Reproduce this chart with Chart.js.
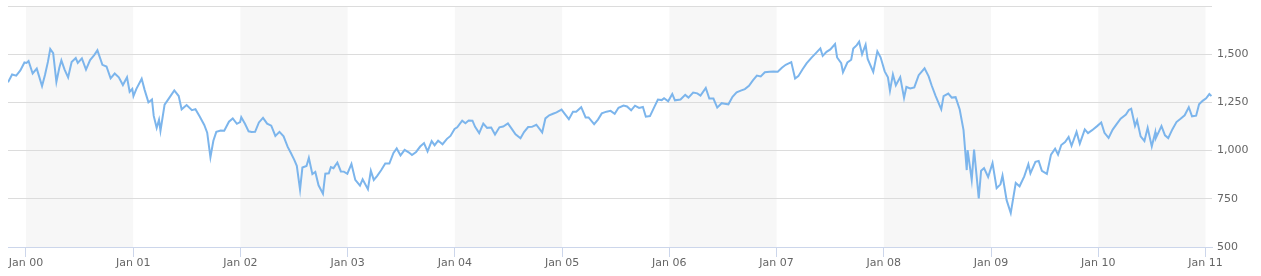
<!DOCTYPE html>
<html>
<head>
<meta charset="utf-8">
<script src="https://cdn.jsdelivr.net/npm/chart.js@4/dist/chart.umd.min.js"></script>
<style>
  html, body { margin: 0; padding: 0; background: #fff; }
  #wrap { width: 1261px; height: 276px; }
</style>
</head>
<body>
<div id="wrap"><canvas id="myChart"></canvas></div>
<script>
// S&P 500 closes (approx, roughly every 2 weeks)
var dates = [
  '1999-11-01','1999-11-15','1999-11-29','1999-12-13','1999-12-27',
  '2000-01-03','2000-01-10','2000-01-24','2000-02-07','2000-02-14','2000-02-25','2000-03-06','2000-03-16','2000-03-24','2000-04-03','2000-04-14','2000-04-24','2000-05-01','2000-05-12','2000-05-24','2000-06-05','2000-06-19','2000-06-26','2000-07-10','2000-07-24','2000-08-07','2000-08-21','2000-09-01','2000-09-18','2000-10-02','2000-10-16','2000-10-30','2000-11-13','2000-11-27','2000-12-11','2000-12-20','2000-12-29',
  '2001-01-02','2001-01-12','2001-01-30','2001-02-09','2001-02-22','2001-03-06','2001-03-12','2001-03-22','2001-03-30','2001-04-04','2001-04-18','2001-05-01','2001-05-21','2001-06-05','2001-06-15','2001-07-02','2001-07-20','2001-08-01','2001-08-15','2001-08-31','2001-09-10','2001-09-21','2001-10-01','2001-10-11','2001-10-26','2001-11-07','2001-11-23','2001-12-06','2001-12-20','2001-12-31',
  '2002-01-04','2002-01-17','2002-01-29','2002-02-08','2002-02-20','2002-03-05','2002-03-19','2002-04-02','2002-04-16','2002-04-30','2002-05-14','2002-05-28','2002-06-11','2002-06-21','2002-07-03','2002-07-12','2002-07-23','2002-07-31','2002-08-14','2002-08-22','2002-09-03','2002-09-13','2002-09-24','2002-10-09','2002-10-17','2002-10-29','2002-11-05','2002-11-14','2002-11-27','2002-12-09','2002-12-19','2002-12-31',
  '2003-01-14','2003-01-27','2003-02-12','2003-02-21','2003-03-11','2003-03-21','2003-03-31','2003-04-11','2003-04-25','2003-05-09','2003-05-23','2003-06-06','2003-06-17','2003-06-30','2003-07-14','2003-07-29','2003-08-08','2003-08-22','2003-09-05','2003-09-18','2003-09-30','2003-10-14','2003-10-24','2003-11-05','2003-11-20','2003-12-05','2003-12-17','2003-12-31',
  '2004-01-09','2004-01-26','2004-02-06','2004-02-17','2004-03-01','2004-03-10','2004-03-24','2004-04-07','2004-04-20','2004-05-04','2004-05-17','2004-06-01','2004-06-14','2004-06-30','2004-07-12','2004-07-26','2004-08-12','2004-08-24','2004-09-07','2004-09-20','2004-10-05','2004-10-25','2004-11-05','2004-11-18','2004-12-01','2004-12-13','2004-12-30',
  '2005-01-10','2005-01-24','2005-02-07','2005-02-18','2005-03-07','2005-03-22','2005-04-01','2005-04-20','2005-05-03','2005-05-16','2005-06-01','2005-06-15','2005-06-29','2005-07-12','2005-07-29','2005-08-10','2005-08-24','2005-09-06','2005-09-20','2005-10-03','2005-10-13','2005-10-27','2005-11-09','2005-11-23','2005-12-06','2005-12-14','2005-12-28',
  '2006-01-11','2006-01-20','2006-02-08','2006-02-24','2006-03-07','2006-03-23','2006-04-06','2006-04-17','2006-05-05','2006-05-17','2006-05-31','2006-06-13','2006-06-28','2006-07-13','2006-07-21','2006-08-04','2006-08-18','2006-09-01','2006-09-15','2006-09-29','2006-10-13','2006-10-26','2006-11-08','2006-11-22','2006-12-08','2006-12-22',
  '2007-01-05','2007-01-19','2007-02-01','2007-02-20','2007-03-05','2007-03-16','2007-03-30','2007-04-13','2007-04-30','2007-05-14','2007-05-30','2007-06-07','2007-06-20','2007-07-03','2007-07-19','2007-07-26','2007-08-09','2007-08-15','2007-08-30','2007-09-12','2007-09-19','2007-10-01','2007-10-09','2007-10-19','2007-10-31','2007-11-07','2007-11-26','2007-12-10','2007-12-21',
  '2008-01-04','2008-01-15','2008-01-22','2008-02-01','2008-02-11','2008-02-26','2008-03-10','2008-03-18','2008-03-31','2008-04-14','2008-04-29','2008-05-19','2008-06-02','2008-06-12','2008-06-26','2008-07-15','2008-07-23','2008-08-08','2008-08-20','2008-09-02','2008-09-16','2008-09-29','2008-10-10','2008-10-13','2008-10-27','2008-11-04','2008-11-20','2008-11-28','2008-12-08','2008-12-22',
  '2009-01-06','2009-01-20','2009-02-02','2009-02-09','2009-02-23','2009-03-09','2009-03-26','2009-04-08','2009-04-24','2009-05-08','2009-05-15','2009-06-01','2009-06-12','2009-06-23','2009-07-10','2009-07-24','2009-08-07','2009-08-17','2009-08-28','2009-09-10','2009-09-22','2009-10-02','2009-10-19','2009-10-30','2009-11-16','2009-11-27','2009-12-11','2009-12-28',
  '2010-01-11','2010-01-22','2010-02-05','2010-02-19','2010-03-05','2010-03-18','2010-04-05','2010-04-15','2010-04-23','2010-05-06','2010-05-13','2010-05-25','2010-06-07','2010-06-18','2010-07-02','2010-07-14','2010-07-16','2010-08-04','2010-08-16','2010-08-27','2010-09-10','2010-09-24','2010-10-08','2010-10-22','2010-11-05','2010-11-16','2010-11-30','2010-12-10','2010-12-22',
  '2011-01-03','2011-01-14','2011-01-21'
];
var closes = [
  1354,1395,1389,1416,1457,
  1455,1465,1400,1425,1390,1335,1392,1460,1527,1505,1356,1430,1468,1420,1380,1460,1480,1455,1478,1420,1470,1495,1520,1445,1436,1375,1400,1380,1340,1380,1305,1320,
  1283,1320,1373,1315,1250,1265,1180,1118,1160,1103,1238,1267,1312,1283,1214,1236,1210,1215,1178,1133,1093,966,1051,1097,1104,1103,1150,1167,1139,1148,
  1173,1138,1100,1096,1097,1146,1170,1140,1129,1076,1097,1074,1019,990,953,921,797,912,920,962,878,889,820,777,880,882,915,909,938,892,891,880,
  931,848,818,851,800,895,848,868,898,933,933,988,1011,975,1004,990,977,993,1021,1039,996,1049,1028,1052,1033,1061,1076,1112,
  1121,1155,1142,1156,1155,1123,1091,1140,1118,1120,1084,1121,1125,1141,1115,1085,1064,1096,1122,1123,1134,1094,1167,1183,1191,1198,1213,
  1191,1163,1201,1201,1225,1172,1172,1137,1161,1193,1202,1206,1191,1222,1234,1229,1209,1233,1221,1226,1176,1179,1220,1265,1262,1272,1256,
  1294,1261,1265,1289,1275,1301,1297,1285,1325,1270,1270,1223,1246,1242,1240,1279,1302,1311,1319,1336,1365,1389,1385,1406,1409,1410,
  1409,1430,1445,1459,1374,1386,1421,1452,1482,1504,1530,1491,1512,1525,1553,1483,1453,1406,1457,1471,1529,1547,1565,1500,1549,1475,1408,1515,1484,
  1411,1380,1311,1395,1339,1381,1273,1330,1322,1328,1391,1427,1385,1339,1283,1214,1283,1296,1275,1277,1213,1106,899,1003,848,1005,752,896,909,863,
  935,805,825,870,743,676,832,815,866,929,882,942,946,895,879,979,1010,979,1029,1044,1071,1025,1097,1036,1110,1091,1106,1127,
  1146,1092,1066,1109,1139,1166,1187,1211,1217,1128,1157,1074,1050,1118,1022,1095,1065,1127,1079,1065,1110,1148,1165,1183,1225,1178,1181,1240,1258,
  1271,1293,1283
];
var yearTicks = [2000, 2001, 2002, 2003, 2004, 2005, 2006, 2007, 2008, 2009, 2010, 2011];
var shadedYears = [2000, 2002, 2004, 2006, 2008, 2010];
var valueTicks = [500, 750, 1000, 1250, 1500, 1750];

function toYear(s) {
  var p = s.split('-').map(Number);
  var start = Date.UTC(p[0], 0, 1), end = Date.UTC(p[0] + 1, 0, 1);
  return p[0] + (Date.UTC(p[0], p[1] - 1, p[2]) - start) / (end - start);
}

var points = [];
for (var i = 0; i < dates.length; i++) {
  points.push({ x: toYear(dates[i]), y: closes[i] });
}

// alternating year bands behind the grid
var bands = {
  id: 'bands',
  beforeDraw: function (chart) {
    var c = chart.ctx, xs = chart.scales.x, a = chart.chartArea;
    c.save();
    c.fillStyle = '#f7f7f7';
    shadedYears.forEach(function (y) {
      var x0 = xs.getPixelForValue(y), x1 = xs.getPixelForValue(y + 1);
      c.fillRect(x0, a.top, x1 - x0, a.bottom - a.top);
    });
    c.restore();
  }
};

Chart.defaults.font.family = '"DejaVu Sans", Verdana, sans-serif';
Chart.defaults.font.size = 11;
Chart.defaults.color = '#666666';

var ctx = document.getElementById('myChart').getContext('2d');
var chart = new Chart(ctx, {
  type: 'line',
  data: {
    datasets: [{
      data: points,
      borderColor: '#7cb5ec',
      borderWidth: 2,
      pointRadius: 0,
      tension: 0,
      fill: false
    }]
  },
  options: {
    responsive: true,
    maintainAspectRatio: false,
    animation: false,
    layout: { padding: { left: 8, top: 6, right: 0, bottom: 0 } },
    plugins: { legend: { display: false }, tooltip: { enabled: false } },
    scales: {
      x: {
        type: 'linear',
        min: toYear('1999-11-01'),
        max: toYear('2011-01-23'),
        afterBuildTicks: function (s) { s.ticks = yearTicks.map(function (v) { return { value: v }; }); },
        afterFit: function (s) { s.height = 29; s.paddingLeft = 0; s.paddingRight = 0; },
        ticks: {
          autoSkip: false,
          maxRotation: 0,
          padding: 0,
          callback: function (v) { return 'Jan ' + String(v).slice(2); }
        },
        grid: { drawOnChartArea: false, drawTicks: true, tickLength: 10, color: '#ccd6eb' },
        border: { color: '#ccd6eb' }
      },
      y: {
        position: 'right',
        min: 500,
        max: 1750,
        afterBuildTicks: function (s) { s.ticks = valueTicks.map(function (v) { return { value: v }; }); },
        afterFit: function (s) { s.width = 49; s.paddingTop = 0; s.paddingBottom = 0; },
        ticks: {
          padding: 5,
          callback: function (v) { return v === 1750 ? '' : v.toLocaleString('en-US'); }
        },
        grid: { color: '#dcdcdc', drawTicks: false },
        border: { display: false }
      }
    }
  },
  plugins: [bands]
});
</script>
</body>
</html>
